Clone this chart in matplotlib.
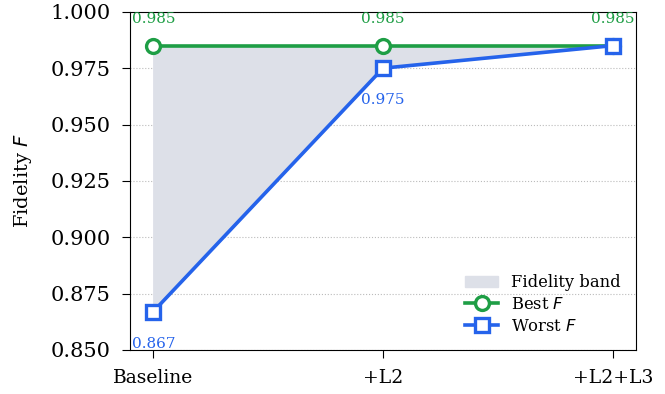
import numpy as np
import matplotlib
matplotlib.use('Agg')
import matplotlib.pyplot as plt

plt.rcParams['font.family'] = 'DejaVu Serif'
plt.rcParams['mathtext.fontset'] = 'dejavusans'

stages = ['Baseline', '+L2', '+L2+L3']
best_f = [0.985, 0.985, 0.985]
worst_f = [0.867, 0.975, 0.985]

green = '#1e9e45'
blue = '#2563eb'

fig, ax = plt.subplots(figsize=(6.65, 3.94), dpi=100)
x = np.arange(len(stages))

ax.fill_between(x, worst_f, best_f, color='#dde0e8', label='Fidelity band', zorder=1)
ax.plot(x, best_f, color=green, lw=2.6, marker='o', ms=10, mfc='white', mew=2.4,
        label='Best $F$', zorder=3)
ax.plot(x, worst_f, color=blue, lw=2.6, marker='s', ms=10, mfc='white', mew=2.4,
        label='Worst $F$', zorder=3)

# value labels
for xi, v in zip(x, best_f):
    ax.annotate(f'{v:.3f}', (xi, v), xytext=(0, 19), textcoords='offset points',
                ha='center', va='center', color=green, fontsize=11)
for xi, v in zip(x[:2], worst_f[:2]):
    ax.annotate(f'{v:.3f}', (xi, v), xytext=(0, -23), textcoords='offset points',
                ha='center', va='center', color=blue, fontsize=11)

ax.set_xlim(-0.1, 2.1)
ax.set_ylim(0.85, 1.0)
ax.set_yticks(np.arange(0.85, 1.0001, 0.025))
ax.set_xticks(x)
ax.set_xticklabels(stages)
ax.tick_params(axis='y', labelsize=15, length=6, pad=8)
ax.tick_params(axis='x', labelsize=13.5, length=6, pad=8)
ax.set_ylabel('Fidelity $F$', fontsize=14, labelpad=12)
ax.grid(axis='y', linestyle=':', color='#bbbbbb', lw=0.8)
ax.set_axisbelow(True)

ax.legend(loc='lower right', frameon=False, fontsize=11.8, labelspacing=0.3,
          bbox_to_anchor=(1.0, 0.0))

fig.subplots_adjust(left=0.196, right=0.956, top=0.97, bottom=0.112)
fig.savefig('out.png', dpi=100)
